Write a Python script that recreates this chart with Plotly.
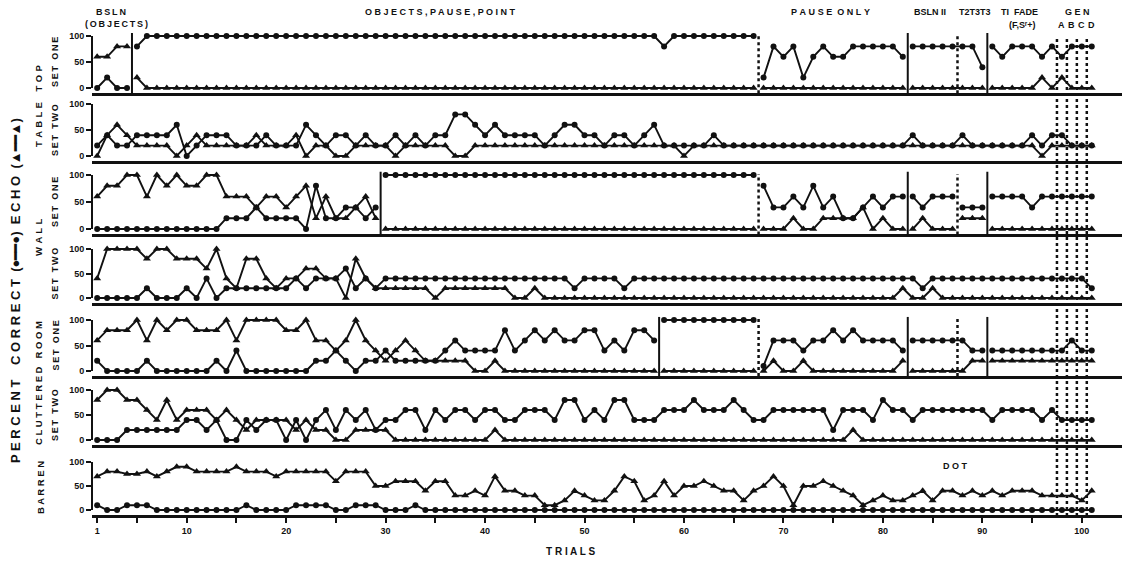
import plotly.graph_objects as go

# ---------------- DATA (percent per trial, trials 1..101) ----------------
trials = list(range(1, 102))

# TABLE TOP - SET ONE
tt1_correct = [0, 20, 0, 0, 80, 100, 100, 100, 100, 100,
               100, 100, 100, 100, 100, 100, 100, 100, 100, 100,
               100, 100, 100, 100, 100, 100, 100, 100, 100, 100,
               100, 100, 100, 100, 100, 100, 100, 100, 100, 100,
               100, 100, 100, 100, 100, 100, 100, 100, 100, 100,
               100, 100, 100, 100, 100, 100, 100, 80, 100, 100,
               100, 100, 100, 100, 100, 100, 100, 20, 80, 60,
               80, 20, 60, 80, 60, 60, 80, 80, 80, 80,
               80, 60, 80, 80, 80, 80, 80, 80, 80, 40,
               80, 60, 80, 80, 80, 60, 80, 60, 80, 80,
               80]
tt1_echo = [60, 60, 80, 80, 20, 0, 0, 0, 0, 0,
            0, 0, 0, 0, 0, 0, 0, 0, 0, 0,
            0, 0, 0, 0, 0, 0, 0, 0, 0, 0,
            0, 0, 0, 0, 0, 0, 0, 0, 0, 0,
            0, 0, 0, 0, 0, 0, 0, 0, 0, 0,
            0, 0, 0, 0, 0, 0, 0, 0, 0, 0,
            0, 0, 0, 0, 0, 0, 0, 0, 0, 0,
            0, 0, 0, 0, 0, 0, 0, 0, 0, 0,
            0, 0, 0, 0, 0, 0, 0, 0, 0, 0,
            0, 0, 0, 0, 0, 20, 0, 20, 0, 0,
            0]

# TABLE TOP - SET TWO
tt2_correct = [20, 40, 20, 20, 40, 40, 40, 40, 60, 0,
               20, 40, 40, 40, 20, 20, 20, 40, 20, 20,
               20, 60, 40, 20, 40, 40, 20, 40, 20, 20,
               40, 20, 40, 20, 40, 40, 80, 80, 60, 40,
               60, 40, 40, 40, 40, 20, 40, 60, 60, 40,
               40, 20, 40, 40, 20, 40, 60, 20, 20, 20,
               20, 20, 40, 20, 20, 20, 20, 20, 20, 20,
               20, 20, 20, 20, 20, 20, 20, 20, 20, 20,
               20, 20, 40, 20, 20, 20, 20, 40, 20, 20,
               20, 20, 20, 20, 40, 20, 40, 40, 20, 20,
               20]
tt2_echo = [0, 40, 60, 40, 20, 20, 20, 20, 0, 20,
            40, 20, 20, 20, 20, 20, 40, 20, 20, 20,
            40, 0, 20, 20, 0, 0, 20, 20, 20, 20,
            0, 20, 20, 20, 20, 20, 0, 0, 20, 20,
            20, 20, 20, 20, 20, 20, 20, 20, 20, 20,
            20, 20, 20, 20, 20, 20, 20, 20, 20, 0,
            20, 20, 20, 20, 20, 20, 20, 20, 20, 20,
            20, 20, 20, 20, 20, 20, 20, 20, 20, 20,
            20, 20, 20, 20, 20, 20, 20, 20, 20, 20,
            20, 20, 20, 20, 20, 0, 20, 20, 20, 20,
            20]

# WALL - SET ONE
w1_correct = [0, 0, 0, 0, 0, 0, 0, 0, 0, 0,
              0, 0, 0, 20, 20, 20, 40, 20, 20, 20,
              20, 0, 80, 20, 20, 40, 40, 20, 40, 100,
              100, 100, 100, 100, 100, 100, 100, 100, 100, 100,
              100, 100, 100, 100, 100, 100, 100, 100, 100, 100,
              100, 100, 100, 100, 100, 100, 100, 100, 100, 100,
              100, 100, 100, 100, 100, 100, 100, 80, 40, 40,
              60, 40, 80, 40, 60, 20, 20, 40, 60, 40,
              60, 60, 60, 40, 60, 60, 60, 40, 40, 40,
              60, 60, 60, 60, 40, 60, 60, 60, 60, 60,
              60]
w1_echo = [60, 80, 80, 100, 100, 60, 100, 80, 100, 80,
           80, 100, 100, 60, 60, 60, 40, 60, 60, 40,
           60, 80, 20, 60, 20, 20, 40, 60, 20, 0,
           0, 0, 0, 0, 0, 0, 0, 0, 0, 0,
           0, 0, 0, 0, 0, 0, 0, 0, 0, 0,
           0, 0, 0, 0, 0, 0, 0, 0, 0, 0,
           0, 0, 0, 0, 0, 0, 0, 0, 0, 0,
           20, 0, 0, 20, 20, 20, 20, 40, 0, 20,
           0, 0, 0, 20, 0, 0, 0, 20, 20, 20,
           0, 0, 0, 0, 0, 0, 0, 0, 0, 0,
           0]

# WALL - SET TWO
w2_correct = [0, 0, 0, 0, 0, 20, 0, 0, 0, 20,
              0, 40, 0, 20, 20, 20, 20, 20, 20, 20,
              40, 20, 40, 40, 40, 60, 20, 40, 20, 40,
              40, 40, 40, 40, 40, 40, 40, 40, 40, 40,
              40, 40, 40, 40, 40, 40, 40, 40, 20, 40,
              40, 40, 40, 20, 40, 40, 40, 40, 40, 40,
              40, 40, 40, 40, 40, 40, 40, 40, 40, 40,
              40, 40, 40, 40, 40, 40, 40, 40, 40, 40,
              40, 40, 40, 20, 40, 40, 40, 40, 40, 40,
              40, 40, 40, 40, 40, 40, 40, 40, 40, 40,
              20]
w2_echo = [40, 100, 100, 100, 100, 80, 100, 100, 80, 80,
           80, 60, 100, 40, 20, 80, 80, 40, 20, 40,
           40, 60, 60, 40, 40, 0, 80, 40, 20, 20,
           20, 20, 20, 20, 0, 20, 20, 20, 20, 20,
           20, 20, 0, 0, 20, 0, 0, 0, 0, 0,
           0, 0, 0, 0, 0, 0, 0, 0, 0, 0,
           0, 0, 0, 0, 0, 0, 0, 0, 0, 0,
           0, 0, 0, 0, 0, 0, 0, 0, 0, 0,
           0, 20, 0, 0, 20, 0, 0, 0, 0, 0,
           0, 0, 0, 0, 0, 0, 0, 0, 0, 0,
           0]

# CLUTTERED ROOM - SET ONE
cr1_correct = [20, 0, 0, 0, 0, 20, 0, 0, 0, 0,
               0, 0, 20, 0, 40, 0, 0, 0, 0, 0,
               0, 0, 20, 20, 40, 20, 0, 20, 20, 40,
               20, 20, 20, 20, 20, 40, 60, 40, 40, 40,
               40, 80, 40, 60, 80, 60, 80, 60, 60, 80,
               80, 40, 60, 40, 80, 80, 60, 100, 100, 100,
               100, 100, 100, 100, 100, 100, 100, 10, 60, 60,
               60, 40, 60, 60, 80, 60, 80, 60, 60, 60,
               60, 40, 60, 60, 60, 60, 60, 60, 40, 40,
               40, 40, 40, 40, 40, 40, 40, 40, 60, 40,
               40]
cr1_echo = [60, 80, 80, 80, 100, 60, 100, 80, 100, 100,
            80, 80, 80, 100, 60, 100, 100, 100, 100, 80,
            80, 100, 60, 60, 40, 60, 100, 60, 40, 20,
            40, 60, 40, 20, 20, 20, 20, 20, 0, 0,
            20, 0, 0, 0, 0, 0, 0, 0, 0, 0,
            0, 0, 0, 0, 0, 0, 0, 0, 0, 0,
            0, 0, 0, 0, 0, 0, 0, 0, 20, 0,
            0, 20, 0, 0, 0, 0, 0, 0, 0, 0,
            0, 20, 0, 0, 0, 0, 0, 0, 20, 20,
            20, 20, 20, 20, 20, 20, 20, 20, 20, 20,
            20]

# CLUTTERED ROOM - SET TWO
cr2_correct = [0, 0, 0, 20, 20, 20, 20, 20, 20, 40,
               40, 20, 40, 0, 0, 40, 20, 40, 40, 0,
               40, 0, 40, 60, 20, 60, 40, 60, 20, 40,
               40, 60, 60, 20, 60, 40, 60, 60, 40, 60,
               60, 40, 40, 60, 60, 60, 40, 80, 80, 40,
               60, 40, 80, 80, 40, 40, 40, 60, 60, 60,
               80, 60, 60, 60, 80, 60, 40, 40, 60, 60,
               60, 60, 60, 60, 20, 60, 60, 60, 40, 80,
               60, 60, 40, 60, 60, 60, 60, 60, 60, 60,
               40, 60, 60, 60, 60, 40, 60, 40, 40, 40,
               40]
cr2_echo = [80, 100, 100, 80, 80, 60, 40, 80, 40, 60,
            60, 60, 40, 60, 40, 20, 40, 40, 40, 40,
            20, 40, 20, 20, 0, 0, 20, 20, 20, 20,
            0, 0, 0, 0, 0, 0, 0, 0, 0, 0,
            20, 0, 0, 0, 0, 0, 0, 0, 0, 0,
            0, 0, 0, 0, 0, 0, 0, 0, 0, 0,
            0, 0, 0, 0, 0, 0, 0, 0, 0, 0,
            0, 0, 0, 0, 0, 0, 20, 0, 0, 0,
            0, 0, 0, 0, 0, 0, 0, 0, 0, 0,
            0, 0, 0, 0, 0, 0, 0, 0, 0, 0,
            0]

# BARREN
br_correct = [10, 0, 0, 10, 10, 10, 0, 0, 0, 0,
              0, 0, 0, 0, 0, 10, 0, 0, 0, 0,
              10, 10, 10, 10, 0, 0, 10, 10, 10, 0,
              0, 0, 10, 0, 0, 0, 0, 0, 0, 0,
              0, 0, 0, 0, 0, 0, 0, 0, 0, 0,
              0, 0, 0, 0, 0, 0, 0, 0, 0, 0,
              0, 0, 0, 0, 0, 0, 0, 0, 0, 0,
              0, 0, 0, 0, 0, 0, 0, 0, 0, 0,
              0, 0, 0, 0, 0, 0, 0, 0, 0, 0,
              0, 0, 0, 0, 0, 0, 0, 0, 0, 0,
              0]
br_echo = [70, 80, 80, 75, 75, 80, 70, 80, 90, 90,
           80, 80, 80, 80, 90, 80, 80, 80, 70, 80,
           80, 80, 80, 80, 60, 80, 80, 80, 50, 50,
           60, 60, 60, 40, 60, 60, 30, 30, 40, 30,
           70, 40, 40, 30, 30, 10, 10, 20, 40, 30,
           20, 20, 40, 70, 60, 20, 30, 60, 30, 50,
           50, 60, 50, 40, 40, 20, 40, 50, 70, 50,
           10, 50, 50, 60, 50, 40, 30, 10, 20, 30,
           20, 20, 30, 40, 20, 40, 40, 30, 40, 30,
           40, 30, 40, 40, 40, 30, 30, 30, 30, 20,
           40]

x_tick_vals = [1, 10, 20, 30, 40, 50, 60, 70, 80, 90, 100]
x_tick_text = ["1", "10", "20", "30", "40", "50", "60", "70", "80", "90", "100"]
y_tick_vals = [0, 50, 100]

# phase changes (between trials)
solid_lines = [[4.5, 82.5, 90.5], [], [29.5, 82.5, 90.5], [], [57.5, 82.5, 90.5], [], []]
dotted_lines = [[67.5, 87.5], [], [67.5, 87.5], [], [67.5, 87.5], [], []]
line_breaks = [[4.5, 67.5, 82.5, 90.5], [], [29.5, 67.5, 82.5, 87.5, 90.5], [],
               [57.5, 67.5, 82.5, 90.5], [], []]
gen_lines = [97.5, 98.5, 99.5, 100.5]

series = [(tt1_correct, tt1_echo), (tt2_correct, tt2_echo), (w1_correct, w1_echo),
          (w2_correct, w2_echo), (cr1_correct, cr1_echo), (cr2_correct, cr2_echo),
          (br_correct, br_echo)]

# ---------------- LAYOUT GEOMETRY ----------------
W, H = 1124, 565
X_LEFT, X_RIGHT = 92, 1122
X_RANGE = [0.48, 104.04]
Y_RANGE = [-10, 112]
panel_px = [(36, 88), (104, 156), (175, 229), (249, 298), (320, 371), (390, 440), (462, 510)]
INK = "#111111"
FONT = "Liberation Sans, Arial, sans-serif"


def xf(px):
    return px / W


def yf(px):
    return 1 - px / H


def spaced(s, gap="\u2009"):
    return gap.join(s)


fig = go.Figure()
layout = dict(width=W, height=H, margin=dict(l=0, r=0, t=0, b=0),
              paper_bgcolor="white", plot_bgcolor="white", showlegend=False)
shapes = []
annotations = []

for i, (corr, echo) in enumerate(series):
    n = i + 1
    sfx = "" if n == 1 else str(n)
    for vals, sym, size in ((corr, "circle", 6), (echo, "triangle-up", 7)):
        xs, ys = [], []
        prev = None
        for t, v in zip(trials, vals):
            if prev is not None and any(prev < b < t for b in line_breaks[i]):
                xs.append(None)
                ys.append(None)
            xs.append(t)
            ys.append(v)
            prev = t
        fig.add_trace(go.Scatter(x=xs, y=ys, mode="lines+markers", xaxis="x" + sfx, yaxis="y" + sfx,
                                 line=dict(color=INK, width=1.9),
                                 marker=dict(symbol=sym, size=size, color=INK, line=dict(width=0)),
                                 connectgaps=False, hoverinfo="skip"))

    y100, y0 = panel_px[i]
    s = (y0 - y100) / 100.0
    dom = [yf(y0 + 10 * s), yf(y100 - 12 * s)]
    last = n == 7
    xa = dict(domain=[xf(X_LEFT), xf(X_RIGHT)], range=X_RANGE, anchor="y" + sfx,
              showline=True, linewidth=3, linecolor=INK, showgrid=False, zeroline=False,
              showticklabels=last, tickvals=x_tick_vals, ticktext=x_tick_text,
              tickfont=dict(family=FONT, size=9, color=INK, weight="bold"))
    if last:
        xa.update(ticks="outside", ticklen=5, tickwidth=2, tickcolor=INK,
                  minor=dict(ticks="outside", tick0=0, dtick=5, ticklen=5, tickwidth=2, tickcolor=INK))
    else:
        xa.update(ticks="", matches="x")
    layout["xaxis" + sfx] = xa
    layout["yaxis" + sfx] = dict(domain=dom, range=Y_RANGE, anchor="x" + sfx, showline=False,
                                 showgrid=False, zeroline=False, ticks="outside", ticklen=5, tickwidth=2,
                                 tickcolor=INK, tickvals=y_tick_vals,
                                 tickfont=dict(family=FONT, size=9, color=INK, weight="bold"))
    # y bracket 0..100
    shapes.append(dict(type="line", xref="paper", yref="y" + sfx, x0=xf(X_LEFT), x1=xf(X_LEFT),
                       y0=0, y1=100, line=dict(color=INK, width=2)))
    for xv in solid_lines[i]:
        shapes.append(dict(type="line", xref="x" + sfx, yref="y" + sfx, x0=xv, x1=xv, y0=-10, y1=106,
                           line=dict(color=INK, width=2)))
    for xv in dotted_lines[i]:
        shapes.append(dict(type="line", xref="x" + sfx, yref="y" + sfx, x0=xv, x1=xv, y0=-10, y1=102,
                           line=dict(color=INK, width=2.5, dash="dot")))

for xv in gen_lines:
    shapes.append(dict(type="line", xref="x", yref="paper", x0=xv, x1=xv, y0=yf(516), y1=yf(38),
                       line=dict(color=INK, width=2.5, dash="dot")))


def ann(text, x, y, size=9, angle=0, xref="paper"):
    annotations.append(dict(text=text, x=x if xref != "paper" else xf(x), y=yf(y), xref=xref, yref="paper",
                            showarrow=False, xanchor="center", yanchor="middle", textangle=angle,
                            font=dict(family=FONT, size=size, color=INK, weight="bold")))


# header / phase labels
ann(spaced("BSLN"), 111, 12)
ann(spaced("(OBJECTS)"), 116, 24)
ann(spaced("OBJECTS,PAUSE,POINT", " "), 440, 12)
ann(spaced("PAUSE", "\u2009\u200a") + "  " + spaced("ONLY", "\u2009\u200a"), 830, 12)
ann("BSLN II", 930, 12)
ann("T2T3T3", 975, 12)
ann("TI  FADE", 1019, 12)
ann("(F,Sʳ+)", 1022, 25)
ann(spaced("GEN", " "), 1077, 12)
for lbl, tv in zip(["A", "B", "C", "D"], [98, 99, 100, 101]):
    ann(lbl, tv, 25, xref="x")
ann(spaced("DOT", " "), 955, 466)
ann(spaced("TRIALS", " "), 570, 551, size=10)

# left labels
ann(spaced("PERCENT", " ") + "    " + spaced("CORRECT", " ") + "  (●━━●)  " + spaced("ECHO", " ")
    + "  (▲━━▲)", 15, 291, size=13, angle=-90)
ann(spaced("TABLE", " \u200a") + "    " + spaced("TOP", " \u200a"), 38, 106, size=9.5, angle=-90)
ann(spaced("WALL", " \u200a"), 38, 238, size=9.5, angle=-90)
ann(spaced("CLUTTERED", " ") + "   " + spaced("ROOM", " "), 38, 383, size=9.5, angle=-90)
ann(spaced("BARREN", " "), 40, 488, size=9.5, angle=-90)
for (y100, y0), lbl in zip(panel_px[:6], ["SET ONE", "SET TWO"] * 3):
    ann(spaced(lbl, "\u2009"), 55, (y100 + y0) / 2, size=9, angle=-90)

layout["shapes"] = shapes
layout["annotations"] = annotations
fig.update_layout(**layout)
fig.write_html("out.html", config={"displayModeBar": False},
               post_script="document.body.style.margin='0px';")
